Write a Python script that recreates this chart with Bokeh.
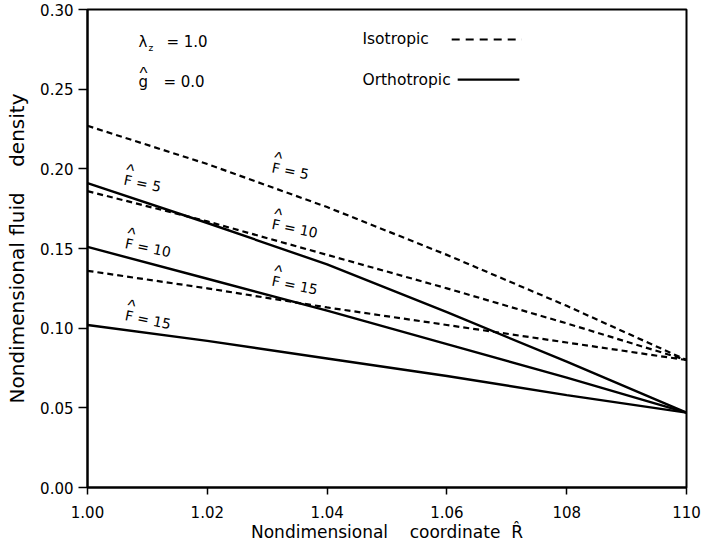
from bokeh.plotting import figure
from bokeh.models import FixedTicker, Range1d, ColumnDataSource
from bokeh.core.properties import value
from bokeh.embed import file_html
from bokeh.resources import INLINE

# Nondimensional coordinate R-hat
r_hat = [1.00, 1.02, 1.04, 1.06, 1.08, 1.10]

# Nondimensional fluid density, isotropic matrix
iso_f5 = [0.227, 0.203, 0.176, 0.146, 0.114, 0.080]
iso_f10 = [0.186, 0.167, 0.146, 0.125, 0.103, 0.080]
iso_f15 = [0.136, 0.125, 0.113, 0.102, 0.091, 0.080]

# Nondimensional fluid density, orthotropic matrix
ortho_f5 = [0.191, 0.166, 0.140, 0.110, 0.079, 0.047]
ortho_f10 = [0.151, 0.131, 0.111, 0.090, 0.069, 0.047]
ortho_f15 = [0.102, 0.092, 0.081, 0.070, 0.058, 0.047]

# Axis ticks and their printed labels
x_ticks = [1.00, 1.02, 1.04, 1.06, 1.08, 1.10]
x_tick_labels = ["1.00", "1.02", "1.04", "1.06", "108", "110"]
y_ticks = [0.00, 0.05, 0.10, 0.15, 0.20, 0.25, 0.30]
y_tick_labels = ["0.00", "0.05", "0.10", "0.15", "0.20", "0.25", "0.30"]

# Curve annotations (F-hat values)
f_labels = ["F = 5", "F = 10", "F = 15", "F = 5", "F = 10", "F = 15"]
f_label_x = [1.0061, 1.0063, 1.0063, 1.0308, 1.0308, 1.0308]
f_label_y = [0.1932, 0.1534, 0.1082, 0.2010, 0.1654, 0.1298]

FONT = "DejaVu Sans"
HAT_FONT = "Liberation Sans"
NB = "\u00a0"

p = figure(
    width=705, height=550,
    x_range=Range1d(1.0, 1.1), y_range=Range1d(0.0, 0.3),
    output_backend="svg", toolbar_location=None,
    min_border_left=87, min_border_right=19,
    min_border_top=9, min_border_bottom=63,
)
p.background_fill_color = "white"
p.border_fill_color = "white"
p.xgrid.visible = False
p.ygrid.visible = False
p.outline_line_color = "black"
p.outline_line_width = 2

p.xaxis.ticker = FixedTicker(ticks=x_ticks)
p.yaxis.ticker = FixedTicker(ticks=y_ticks)
p.xaxis.major_label_overrides = dict(zip(x_ticks, x_tick_labels))
p.yaxis.major_label_overrides = dict(zip(y_ticks, y_tick_labels))

for ax in (p.xaxis, p.yaxis):
    ax.axis_line_color = "black"
    ax.axis_line_width = 2
    ax.major_tick_line_color = "black"
    ax.major_tick_line_width = 1.5
    ax.major_tick_in = 0
    ax.minor_tick_line_color = None
    ax.major_label_text_font = FONT
    ax.major_label_text_font_size = "15px"
    ax.major_label_text_color = "black"
    ax.axis_label_text_font = FONT
    ax.axis_label_text_font_style = "normal"
    ax.axis_label_text_color = "black"

p.yaxis.major_tick_out = 9
p.yaxis.major_label_standoff = 5
p.xaxis.major_tick_out = 7
p.xaxis.major_label_standoff = 11

p.xaxis.axis_label = "Nondimensional" + NB * 4 + "coordinate" + NB * 2 + "R\u0302"
p.yaxis.axis_label = "Nondimensional fluid" + NB * 4 + "density"
p.xaxis.axis_label_text_font_size = "17px"
p.yaxis.axis_label_text_font_size = "20px"
p.xaxis.axis_label_standoff = 1
p.yaxis.axis_label_standoff = 8

# Isotropic curves (dashed)
for ys in (iso_f5, iso_f10, iso_f15):
    p.line(r_hat, ys, line_color="black", line_width=2.2, line_dash="6 4")

# Orthotropic curves (solid)
for ys in (ortho_f5, ortho_f10, ortho_f15):
    p.line(r_hat, ys, line_color="black", line_width=2.4)

# F-hat labels along the curves
lab_src = ColumnDataSource(data=dict(x=f_label_x, y=f_label_y, t=f_labels))
p.text(x="x", y="y", text="t", source=lab_src, angle=-0.2,
       text_font=value(FONT), text_font_size="14px", text_color="black",
       text_align="left", text_baseline="middle")
p.text(x="x", y="y", text=value("^"), source=lab_src, angle=-0.2,
       x_offset=2, y_offset=-10,
       text_font=value(HAT_FONT), text_font_size="17px", text_color="black",
       text_align="left", text_baseline="middle")

# Parameter block in the upper left
txt = dict(text_color="black", text_align="left", text_baseline="middle")
p.text(x=[1.0085], y=[0.2798], text=["\u03bb"], text_font=value(FONT),
       text_font_size="15px", **txt)
p.text(x=[1.0085], y=[0.2798], text=["z"], x_offset=10, y_offset=6,
       text_font=value(FONT), text_font_size="9px", **txt)
p.text(x=[1.0085], y=[0.2798], text=["= 1.0"], x_offset=28,
       text_font=value(FONT), text_font_size="15px", **txt)
p.text(x=[1.0085], y=[0.2544], text=["g"], text_font=value(FONT),
       text_font_size="15px", **txt)
p.text(x=[1.0085], y=[0.2544], text=["^"], x_offset=1, y_offset=-9,
       text_font=value(HAT_FONT), text_font_size="17px", **txt)
p.text(x=[1.0085], y=[0.2544], text=["= 0.0"], x_offset=25,
       text_font=value(FONT), text_font_size="15px", **txt)

# Line-style key
key = dict(text_font=value(FONT), text_font_size="15.5px",
           text_color="black", text_align="left", text_baseline="middle")
p.text(x=[1.0459], y=[0.2817], text=["Isotropic"], **key)
p.text(x=[1.0459], y=[0.2560], text=["Orthotropic"], **key)
p.line([1.0608, 1.0725], [0.2811, 0.2811], line_color="black",
       line_width=2, line_dash="8 6")
p.line([1.0618, 1.0721], [0.2560, 0.2560], line_color="black", line_width=2.2)

open("out.html", "w").write(file_html(p, INLINE))
